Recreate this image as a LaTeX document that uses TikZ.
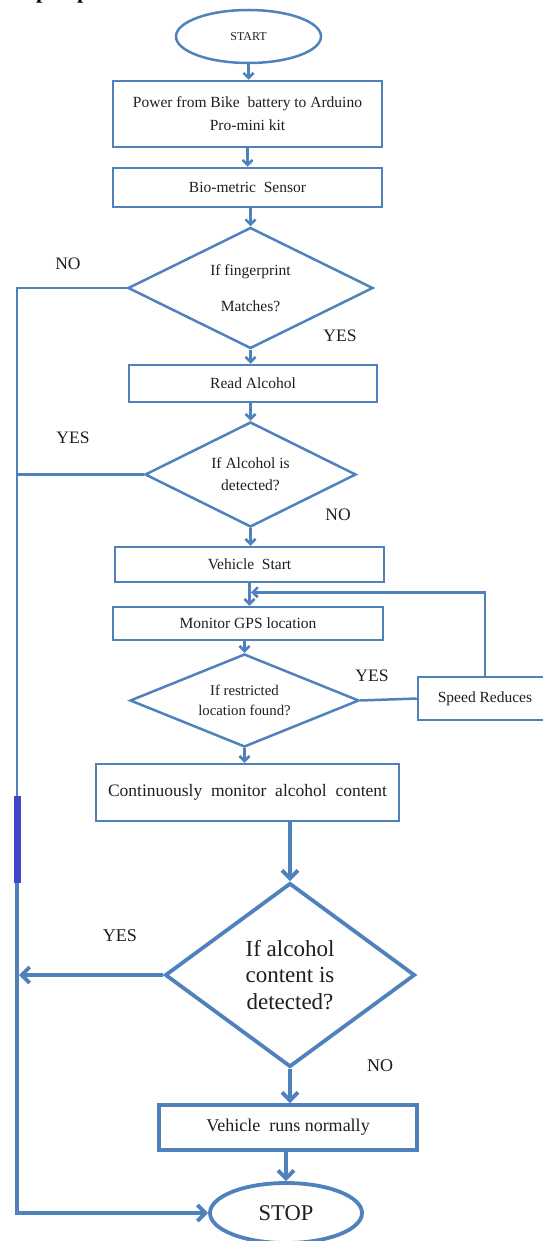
\documentclass[tikz,border=0pt]{standalone}
\usepackage{fontspec}
\setmainfont{Liberation Serif}
\usetikzlibrary{shapes.geometric,arrows.meta,calc}
\definecolor{fblue}{HTML}{4F81BD}
\definecolor{dblue}{HTML}{3F48CC}
\definecolor{txt}{HTML}{1E1E1E}
\begin{document}
\begin{tikzpicture}[x=1pt,y=-1pt,
  box/.style={draw=fblue, line width=2.5pt, rectangle, inner sep=0pt, align=center, text=txt, font=\fontsize{15.5}{23}\selectfont},
  dec/.style={draw=fblue, line width=2.5pt, diamond, inner sep=0pt, align=center, text=txt, font=\fontsize{15.5}{22}\selectfont},
  term/.style={draw=fblue, line width=2.5pt, ellipse, inner sep=0pt, text=txt},
  lbl/.style={text=txt, font=\fontsize{17.5}{20}\selectfont, inner sep=1pt},
  conn/.style={draw=fblue, line width=2.5pt},
  bigconn/.style={draw=fblue, line width=3.8pt},
  arr/.style={conn, -{Straight Barb[length=5pt,width=10pt]}},
  bigarr/.style={bigconn, -{Straight Barb[length=8pt,width=16pt]}}
]
\useasboundingbox (0,0) rectangle (542,1241);
% cropped fragment of a heading above the chart
\node[anchor=base west, inner sep=0pt, text=black, font=\fontsize{22}{22}\selectfont\bfseries] (frag1) at (36,-1) {p};
\node[anchor=base west, inner sep=0pt, text=black, font=\fontsize{22}{22}\selectfont\bfseries] (frag2) at (77,-1) {p};

\node[term, minimum width=145pt, minimum height=53pt, font=\fontsize{12}{14}\selectfont] (start) at (248.5,36.5) {START};
\node[box, minimum width=269pt, minimum height=66pt] (power) at (247.5,114) {Power from Bike\ \ battery to Arduino\\Pro-mini kit};
\node[box, minimum width=269pt, minimum height=39pt] (bio) at (247.5,187.5) {Bio-metric\ \ Sensor};
\node[dec, minimum width=245pt, minimum height=121pt, shape aspect=2] (d1) at (250.5,288) {If fingerprint\\[14pt]Matches?};
\node[box, minimum width=248pt, minimum height=37pt] (read) at (253,383.5) {Read Alcohol};
\node[dec, minimum width=211pt, minimum height=105pt, shape aspect=2] (d2) at (250.5,474.5) {If Alcohol is\\detected?};
\node[box, minimum width=269pt, minimum height=35pt] (vstart) at (249.5,564.5) {Vehicle\ \ Start};
\node[box, minimum width=270pt, minimum height=33pt] (gps) at (248,623.5) {Monitor GPS location};
\node[dec, minimum width=229pt, minimum height=93pt, shape aspect=2.5, font=\fontsize{14.8}{20}\selectfont] (d3) at (244.5,700.5) {If restricted\\location found?};
\node[box, minimum width=134pt, minimum height=43pt] (speed) at (485,698.5) {Speed Reduces};
\node[box, minimum width=303pt, minimum height=57pt, font=\fontsize{17.5}{20}\selectfont] (cont) at (247.5,792.5) {Continuously\ \ monitor\ \ alcohol\ \ content};
\node[dec, line width=3.8pt, minimum width=250pt, minimum height=184pt, shape aspect=1.36, font=\fontsize{23}{26.5}\selectfont] (d4) at (290,975) {If alcohol\\content is\\detected?};
\node[box, line width=3.8pt, minimum width=258pt, minimum height=45pt, font=\fontsize{18}{20}\selectfont] (vrun) at (288,1127.5) {Vehicle\ \ runs normally};
\node[term, line width=3.8pt, minimum width=152pt, minimum height=60pt, font=\fontsize{22.5}{24}\selectfont] (stop) at (286,1213) {STOP};

% main flow
\draw[arr] (start.south) -- (start.south |- power.north);
\draw[arr] (power.south) -- (bio.north);
\draw[arr] (bio.south -| d1.north) -- (d1.north);
\draw[arr] (d1.south) -- (d1.south |- read.north);
\draw[arr] (read.south -| d2.north) -- (d2.north);
\draw[arr] (d2.south) -- (d2.south |- vstart.north);
\draw[arr] (vstart.south) -- (vstart.south |- gps.north);
\draw[arr] (gps.south -| d3.north) -- (d3.north);
\draw[arr] (d3.south) -- (d3.south |- cont.north);
\draw[conn] (d3.east) -- (speed.west);
\path (vstart.south) -- coordinate[pos=0.4] (fb) (vstart.south |- gps.north);
\draw[arr] (speed.north) |- ([xshift=1.5pt]fb);
\draw[bigarr] (cont.south -| d4.north) -- (d4.north);
\draw[bigarr] (d4.south) -- (d4.south |- vrun.north);
\draw[bigarr] (vrun.south -| stop.north) -- (stop.north);

% left return line
\coordinate (La) at (17,796);
\coordinate (Lb) at (17,883);
\draw[conn] (d1.west) -- (d1.west -| Lb) -- (Lb);
\draw[conn] (d2.west) -- (d2.west -| Lb);
\draw[dblue, line width=7pt] (La) -- (Lb);
\draw[bigarr] (Lb) |- (stop.west);
\draw[bigarr] (d4.west) -- ([xshift=2pt]d4.west -| Lb);

% labels
\node[lbl] (l1) at (68,264) {NO};
\node[lbl] (l2) at (340,336) {YES};
\node[lbl] (l3) at (73,438) {YES};
\node[lbl] (l4) at (338,515) {NO};
\node[lbl, fill=white] (l5) at (372,676) {YES};
\node[lbl, font=\fontsize{18}{20}\selectfont] (l6) at (120,936) {YES};
\node[lbl, font=\fontsize{18}{20}\selectfont] (l7) at (380,1066) {NO};
\end{tikzpicture}
\end{document}
